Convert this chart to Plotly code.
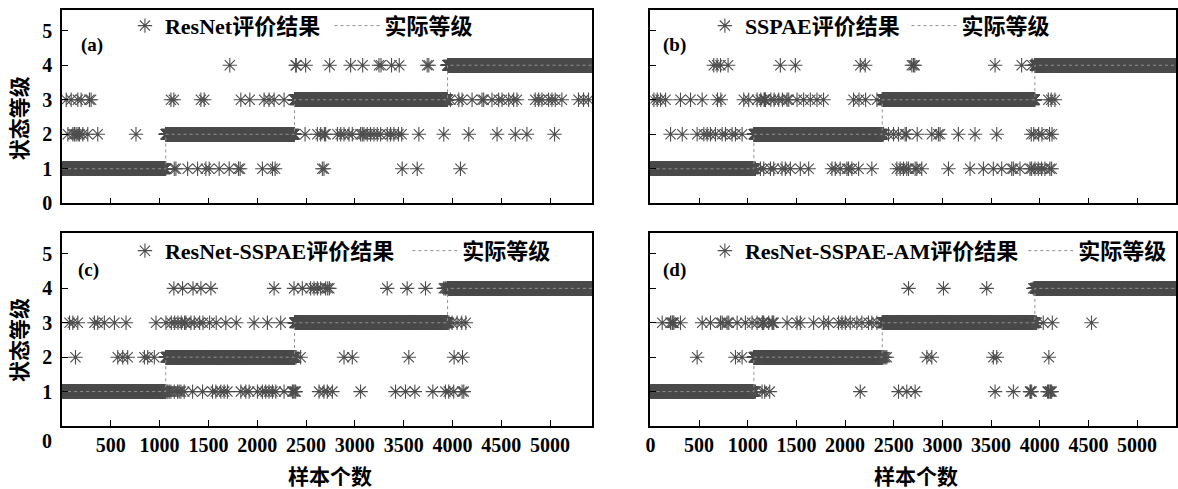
import numpy as np
import plotly.graph_objects as go

# ---------------- data ----------------
N_SAMPLES = 5430
GRADE_START = [1, 1063, 2382, 3950]      # first sample index of grade 1..4 (actual grade)
GRADE_LEVELS = [1, 2, 3, 4]

X_TICKS = [0, 500, 1000, 1500, 2000, 2500, 3000, 3500, 4000, 4500, 5000]
Y_TICKS = [0, 1, 2, 3, 4, 5]

MODEL_NAMES = ["ResNet评价结果", "SSPAE评价结果", "ResNet-SSPAE评价结果", "ResNet-SSPAE-AM评价结果"]
PANEL_TAGS = ["(a)", "(b)", "(c)", "(d)"]
ACTUAL_NAME = "实际等级"

# misclassified samples: sample index -> predicted grade (all others predicted = actual)
A_WRONG_1 = [1150, 1167, 1287, 1389, 1474, 1508, 1610, 1713, 1808, 1825, 2053, 2156, 2183,
             2667, 2684, 3485, 3639, 4082]
A_WRONG_2 = [60, 111, 128, 145, 165, 179, 213, 264, 366, 758, 2490, 2616, 2650, 2688, 2701,
             2821, 2855, 2889, 2940, 2974, 3059, 3076, 3093, 3127, 3161, 3196, 3230, 3264,
             3332, 3366, 3400, 3447, 3480, 3656, 3911, 4167, 4457, 4644, 4763, 5046]
A_WRONG_3 = [43, 94, 162, 196, 281, 298, 1116, 1146, 1423, 1457, 1832, 1924, 2070, 2121, 2173,
             2275, 3979, 4065, 4099, 4201, 4303, 4320, 4405, 4473, 4508, 4576, 4627, 4661,
             4848, 4883, 4917, 4985, 5019, 5053, 5121, 5291, 5343, 5394]
A_WRONG_4 = [1719, 2394, 2400, 2496, 2742, 2957, 3080, 3247, 3268, 3376, 3455, 3741, 3758]

B_WRONG_1 = [1070, 1079, 1130, 1164, 1233, 1267, 1352, 1386, 1438, 1540, 1626, 1865, 1899,
             1950, 2019, 2036, 2070, 2139, 2275, 2532, 2566, 2600, 2634, 2652, 2720, 2737,
             2788, 3062, 3284, 3421, 3523, 3609, 3712, 3729, 3797, 3900, 3917, 3951, 3985,
             4019, 4053, 4105, 4122]
B_WRONG_2 = [207, 327, 480, 549, 583, 617, 668, 737, 771, 839, 874, 942, 2388, 2395, 2446,
             2498, 2549, 2617, 2630, 2741, 2891, 2959, 2976, 3164, 3335, 3558, 3913, 3938,
             3989, 4023, 4101, 4126]
B_WRONG_3 = [36, 70, 104, 156, 309, 412, 532, 689, 724, 959, 1010, 1096, 1134, 1168, 1172,
             1177, 1181, 1237, 1271, 1318, 1356, 1404, 1421, 1506, 1574, 1643, 1711, 1779,
             2087, 2143, 2211, 2327, 4088, 4118, 4156]
B_WRONG_4 = [651, 685, 720, 798, 1335, 1489, 2156, 2207, 2686, 2703, 2716, 3541, 3814, 3921]

C_WRONG_1 = [1075, 1085, 1099, 1116, 1150, 1184, 1200, 1218, 1252, 1338, 1440, 1542, 1576,
             1627, 1661, 1695, 1832, 1883, 1917, 2002, 2053, 2087, 2121, 2156, 2190, 2275,
             2360, 2370, 2385, 2394, 2633, 2684, 2718, 2770, 3059, 3417, 3519, 3615, 3799,
             3928, 3962, 4013, 4099, 4116]
C_WRONG_2 = [138, 571, 622, 673, 844, 878, 946, 2388, 2398, 2445, 2889, 2974, 3553, 4017, 4103]
C_WRONG_3 = [77, 111, 162, 332, 366, 434, 537, 656, 963, 1065, 1120, 1154, 1188, 1222, 1256,
             1269, 1321, 1355, 1410, 1444, 1512, 1580, 1678, 1785, 1968, 2104, 2241, 3955,
             3965, 3996, 4047, 4095, 4137]
C_WRONG_4 = [1146, 1235, 1342, 1423, 1525, 2173, 2377, 2462, 2547, 2582, 2616, 2650, 2701,
             2722, 2739, 3332, 3536, 3724, 3911, 3925, 3935]

D_WRONG_1 = [1070, 1079, 1147, 1174, 1226, 2156, 2549, 2634, 2720, 3541, 3729, 3900, 3905,
             3917, 4081, 4090, 4105, 4110, 4122]
D_WRONG_2 = [480, 874, 942, 2390, 2400, 2412, 2429, 2840, 2891, 3523, 3558, 4094]
D_WRONG_3 = [121, 207, 224, 230, 241, 309, 532, 617, 720, 737, 788, 805, 891, 976, 1044, 1096,
             1150, 1157, 1164, 1215, 1250, 1258, 1267, 1404, 1506, 1540, 1677, 1780, 1831,
             1933, 1968, 2002, 2053, 2121, 2173, 2241, 2275, 2327, 3955, 3962, 3968, 4036,
             4129, 4532]
D_WRONG_4 = [2652, 3011, 3455, 3934]

WRONG = [
    [A_WRONG_1, A_WRONG_2, A_WRONG_3, A_WRONG_4],
    [B_WRONG_1, B_WRONG_2, B_WRONG_3, B_WRONG_4],
    [C_WRONG_1, C_WRONG_2, C_WRONG_3, C_WRONG_4],
    [D_WRONG_1, D_WRONG_2, D_WRONG_3, D_WRONG_4],
]

# ---------------- build ----------------
FONT = "Liberation Serif, Noto Sans CJK SC, serif"
samples = np.arange(1, N_SAMPLES + 1)
actual = np.array(GRADE_LEVELS)[np.searchsorted(GRADE_START, samples, side="right") - 1]

step_x = GRADE_START + [N_SAMPLES]
step_y = GRADE_LEVELS + [GRADE_LEVELS[-1]]

fig = go.Figure()
axis_ids = ["", "2", "3", "4"]

def leg_name(k):
    return "legend" if k == 1 else "legend%d" % k

for p in range(4):
    pred = actual.copy()
    for lvl, lst in zip(GRADE_LEVELS, WRONG[p]):
        pred[np.array(lst) - 1] = lvl
    ax = axis_ids[p]
    fig.add_trace(go.Scatter(
        x=samples, y=pred, mode="markers", name=MODEL_NAMES[p],
        marker=dict(symbol="asterisk-open", size=12, color="#4d4d4d",
                    line=dict(width=1.1, color="#4d4d4d")),
        xaxis="x" + ax, yaxis="y" + ax, legend=leg_name(2 * p + 1)))
    fig.add_trace(go.Scatter(
        x=step_x, y=step_y, mode="lines", name=ACTUAL_NAME, line_shape="hv",
        line=dict(color="#909090", width=1, dash="3px,3px"),
        xaxis="x" + ax, yaxis="y" + ax, legend=leg_name(2 * p + 2)))

tick_font = dict(family=FONT, size=20, color="black", weight="bold")
common_x = dict(showline=True, linecolor="black", linewidth=1.5, mirror=True, ticks="inside",
                ticklen=6, tickwidth=1.3, tickcolor="black", showgrid=False, zeroline=False,
                tickfont=tick_font)
common_y = dict(showline=True, linecolor="black", linewidth=1.5, mirror=True, ticks="inside",
                ticklen=6, tickwidth=1.3, tickcolor="black", showgrid=False, zeroline=False,
                tickfont=tick_font, range=[0, 5.6], ticklabelstandoff=4)

LEFT_DOM = [0, 0.4758]
RIGHT_DOM = [0.5282, 1.0]
TOP_DOM = [0.5353, 1.0]
BOT_DOM = [0, 0.4632]

fig.update_layout(
    xaxis=dict(common_x, domain=LEFT_DOM, anchor="y", range=[0, 5430], tickvals=X_TICKS, showticklabels=False),
    yaxis=dict(common_y, domain=TOP_DOM, anchor="x", tickvals=Y_TICKS),
    xaxis2=dict(common_x, domain=RIGHT_DOM, anchor="y2", range=[0, 5400], tickvals=X_TICKS, showticklabels=False),
    yaxis2=dict(common_y, domain=TOP_DOM, anchor="x2", tickvals=Y_TICKS, showticklabels=False),
    xaxis3=dict(common_x, domain=LEFT_DOM, anchor="y3", range=[0, 5430], tickvals=X_TICKS[1:]),
    yaxis3=dict(common_y, domain=BOT_DOM, anchor="x3", tickvals=Y_TICKS[1:]),
    xaxis4=dict(common_x, domain=RIGHT_DOM, anchor="y4", range=[0, 5400], tickvals=X_TICKS),
    yaxis4=dict(common_y, domain=BOT_DOM, anchor="x4", tickvals=Y_TICKS, showticklabels=False),
)

leg_font = dict(family=FONT, size=22, color="black", weight="bold")
leg_common = dict(orientation="h", xanchor="left", yanchor="middle", bgcolor="rgba(0,0,0,0)",
                  font=leg_font, tracegroupgap=0)
# (x, y, itemwidth) for marker and line legend of each panel
LEG_POS = [(0.0565, 0.962, 30), (0.2401, 0.962, 45),
           (0.5771, 0.962, 30), (0.7581, 0.962, 45),
           (0.0565, 0.421, 30), (0.3100, 0.421, 45),
           (0.5771, 0.421, 30), (0.8629, 0.421, 45)]
legends = {}
for k, (xp, yp, iw) in enumerate(LEG_POS, start=1):
    legends[leg_name(k)] = dict(leg_common, x=xp, y=yp, itemwidth=iw)
fig.update_layout(**legends)

ann = []
ann_font = dict(family=FONT, size=19, color="black", weight="bold")
for tag, xp, yp in [("(a)", 0.0155, 0.917), ("(b)", 0.5375, 0.917),
                    ("(c)", 0.0125, 0.375), ("(d)", 0.5375, 0.375)]:
    ann.append(dict(text=tag, x=xp, y=yp, xref="paper", yref="paper", xanchor="left",
                    yanchor="middle", showarrow=False, font=ann_font))
title_font = dict(family=FONT, size=21, color="black", weight="bold")
for yp in [0.740, 0.207]:
    ann.append(dict(text="状态等级", x=-0.0376, y=yp, xref="paper", yref="paper", textangle=-90,
                    xanchor="center", yanchor="middle", showarrow=False, font=title_font))
for xp in [0.241, 0.767]:
    ann.append(dict(text="样本个数", x=xp, y=-0.122, xref="paper", yref="paper",
                    xanchor="center", yanchor="middle", showarrow=False, font=title_font))
ann.append(dict(text="0", x=-0.0139, y=-0.036, xref="paper", yref="paper", xanchor="center",
                yanchor="middle", showarrow=False, font=tick_font))

fig.update_layout(
    annotations=ann,
    width=1178, height=489,
    margin=dict(l=62, r=0, t=10, b=63),
    paper_bgcolor="white", plot_bgcolor="white",
    showlegend=True,
)

fig.write_html("out.html", config={"displayModeBar": False},
               post_script="document.body.style.margin='0';document.body.style.padding='0';"
                           "document.body.style.overflow='hidden';")
